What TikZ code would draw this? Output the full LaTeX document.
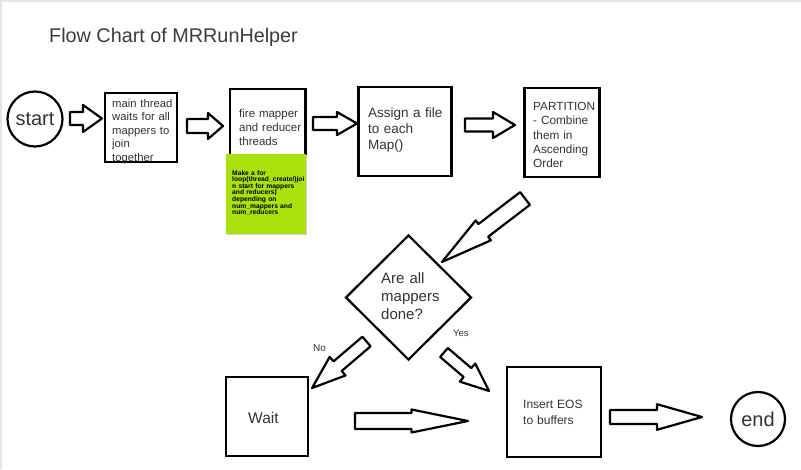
\documentclass[tikz,border=0pt]{standalone}
\usepackage{fontspec}
\setmainfont{Liberation Sans}
\usetikzlibrary{shapes.geometric}
\definecolor{txt}{HTML}{333333}
\definecolor{titlecol}{HTML}{3C3C3C}
\definecolor{notegreen}{HTML}{A8E20A}
\definecolor{framegray}{HTML}{E4E4E4}
\tikzset{
  box/.style={draw=black, line width=2.6pt, inner sep=0pt},
  roundnode/.style={circle, draw=black, line width=2.2pt, inner sep=0pt, text=txt},
  label/.style={inner sep=0pt, anchor=base west, text=txt, align=left},
  arrowline/.style={draw=black, fill=white, line width=2.2pt, line join=round},
  pics/blockarrow/.style n args={4}{code={
    \draw[arrowline] (0,{-#2}) -- ({#1-#4},{-#2}) -- ({#1-#4},{-#3}) -- (#1,0)
      -- ({#1-#4},{#3}) -- ({#1-#4},{#2}) -- (0,{#2}) -- cycle;
  }}
}
\begin{document}
\begin{tikzpicture}[x=1pt,y=-1pt]
\useasboundingbox (0,0) rectangle (801,469);
\fill[white] (0,0) rectangle (801,469);
\draw[framegray, line width=1.5pt] (0.75,469) -- (0.75,0.75) -- (801,0.75);

% title
\node[label, font=\fontsize{19.8}{24}\selectfont, text=titlecol] (title) at (49,42) {Flow Chart of MRRunHelper};

% start / end
\node[roundnode, minimum size=55pt, font=\fontsize{20}{24}\selectfont] (start) at (35,119) {start};
\node[roundnode, minimum size=54pt, font=\fontsize{20}{24}\selectfont] (end) at (758,419) {end};

% boxes
\node[box, minimum width=72pt, minimum height=69pt] (b1) at (141,127.5) {};
\node[label, text width=70pt, font=\fontsize{11.3}{13.6}\selectfont] (t1) at (112,107) {main thread\\waits for all\\mappers to\\join\\together};

\node[box, minimum width=75.5pt, minimum height=73pt] (b2) at (267.75,125.5) {};
\node[label, text width=70pt, font=\fontsize{11.5}{14}\selectfont] (t2) at (239,117) {fire mapper\\and reducer\\threads};

% note
\fill[black!18] (226.5,154.5) rectangle (307,234.5);
\node[fill=notegreen, minimum width=80pt, minimum height=80pt, inner sep=0pt] (note) at (265.5,193.5) {};
\node[inner sep=0pt, anchor=base west, align=left, text width=76pt, font=\bfseries\fontsize{6.7}{6.6}\selectfont] (notetext) at (232,175)
  {Make a for\\loop(thread\_create/)joi\\n start for mappers\\and reducers)\\depending on\\num\_mappers and\\num\_reducers};

\node[box, minimum width=93pt, minimum height=89pt] (b3) at (405,131.5) {};
\node[label, text width=80pt, font=\fontsize{13.5}{16}\selectfont] (t3) at (368,117) {Assign a file\\to each\\Map()};

\node[box, minimum width=75.5pt, minimum height=89pt] (b4) at (562,132.5) {};
\node[label, text width=70pt, font=\fontsize{11.8}{14.3}\selectfont] (t4) at (533,110.5) {PARTITION\\- Combine\\them in\\Ascending\\Order};

% decision
\node[diamond, draw=black, line width=2.2pt, minimum width=126pt, minimum height=125pt, inner sep=0pt] (dec) at (408.5,297.5) {};
\node[label, text width=70pt, font=\fontsize{15}{18.3}\selectfont] (tdec) at (381,283) {Are all\\mappers\\done?};

\node[label, font=\fontsize{9.5}{11}\selectfont] (yes) at (453,336.5) {Yes};
\node[label, font=\fontsize{10}{12}\selectfont] (no) at (313,351.5) {No};

% wait / insert
\node[box, minimum width=82pt, minimum height=79pt] (wait) at (267,416.5) {};
\node[label, font=\fontsize{15.5}{18}\selectfont] (twait) at (248,423) {Wait};

\node[box, minimum width=94pt, minimum height=90pt] (ins) at (554,412) {};
\node[label, text width=80pt, font=\fontsize{12}{16}\selectfont] (tins) at (523,408.5) {Insert EOS\\to buffers};

% block arrows (tail coordinates)
\coordinate (a1) at (70,118.5);
\coordinate (a2) at (187,126);
\coordinate (a3) at (313,123.5);
\coordinate (a4) at (465,125);
\coordinate (a5) at (525,198.5);
\coordinate (a6) at (366.5,341.5);
\coordinate (a7) at (444,352.5);
\coordinate (a8) at (355,421);
\coordinate (a9) at (610,417);

\pic at (a1) {blockarrow={32}{6.5}{13.5}{19}};
\pic at (a2) {blockarrow={36}{7}{13}{15}};
\pic at (a3) {blockarrow={44}{6.5}{11.5}{20}};
\pic at (a4) {blockarrow={50}{6.5}{13}{22}};
\pic[rotate=-142.6] at (a5) {blockarrow={104.5}{8}{12.5}{52}};
\pic[rotate=-139.5] at (a6) {blockarrow={71.6}{6.3}{12.2}{33.6}};
\pic[rotate=-40.5] at (a7) {blockarrow={59.2}{5.9}{11.9}{28.3}};
\pic at (a8) {blockarrow={113}{8}{11.5}{56.5}};
\pic at (a9) {blockarrow={92}{7}{12.8}{45}};
\end{tikzpicture}
\end{document}
